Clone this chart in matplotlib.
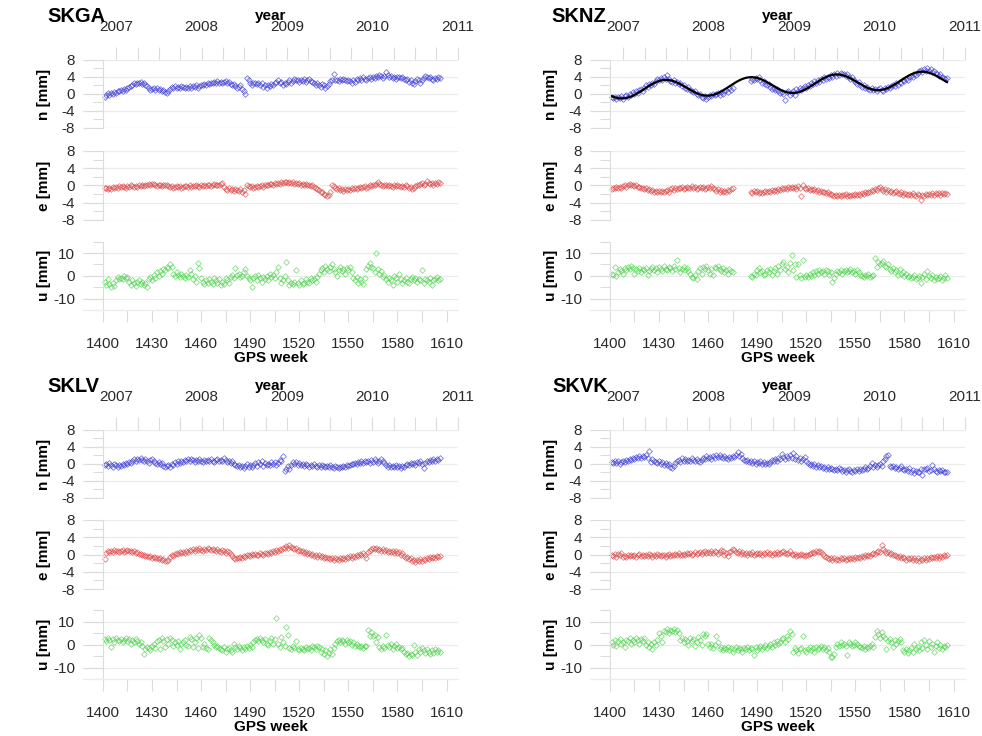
import numpy as np
import matplotlib
matplotlib.use("Agg")
from matplotlib import pyplot as plt
from matplotlib.ticker import FixedLocator

plt.rcParams['font.family'] = ['Liberation Sans', 'DejaVu Sans']
plt.rcParams['axes.unicode_minus'] = False

nan = np.nan
weeks = np.arange(1401, 1607)

# ---- SKGA ----
skga_n = [-0.8,-0.3,0.2,-0.2,0.3,0.0,0.5,0.3,0.8,0.6,
          1.0,0.7,1.2,1.0,1.4,1.6,1.9,2.2,2.5,2.3,
          2.7,2.5,2.8,2.4,2.6,2.2,1.8,1.3,1.0,1.2,
          1.4,1.0,1.3,0.9,1.1,0.7,0.9,0.4,0.2,0.6,
          1.2,1.6,1.4,1.8,1.5,1.7,1.4,1.9,1.6,1.3,
          1.7,1.5,1.9,1.4,1.8,1.6,2.0,1.5,1.9,2.1,
          2.0,2.4,2.2,2.6,2.3,2.7,2.5,2.8,2.6,3.0,
          2.7,2.9,2.5,2.8,3.0,2.6,2.9,2.4,2.1,2.3,
          1.8,1.4,1.7,2.0,1.2,0.8,-0.1,3.8,3.2,2.6,
          2.2,2.5,2.7,2.3,2.6,2.1,2.5,1.7,2.0,1.5,
          2.2,1.9,2.4,2.0,2.6,2.8,3.2,2.5,2.9,2.2,
          2.6,2.3,2.9,3.3,2.7,3.1,3.6,3.2,3.4,2.9,
          3.3,3.0,3.5,2.8,3.2,3.6,3.1,2.9,2.5,2.2,
          2.7,2.0,1.7,2.4,2.0,1.5,1.9,2.4,3.0,3.3,
          4.6,3.2,3.4,3.1,3.5,3.2,3.6,3.3,3.0,3.4,
          3.1,2.7,3.2,2.9,3.5,3.3,3.7,3.4,3.9,3.6,
          3.3,3.8,4.1,3.6,4.0,3.7,4.3,4.0,4.4,4.2,
          3.8,4.2,5.2,4.4,4.0,4.3,3.8,4.1,3.5,3.9,
          4.0,3.7,4.1,3.6,3.2,3.5,2.9,3.3,2.6,2.4,
          3.0,3.6,3.2,2.5,3.4,3.8,4.3,4.0,3.7,4.1,
          3.6,3.4,3.8,3.5,3.9,3.8]
skga_e = [-0.7,-0.5,-0.9,-0.6,-0.8,-0.4,-0.7,-0.3,-0.5,-0.2,
          -0.4,-0.1,-0.3,-0.5,-0.2,-0.4,0.0,-0.2,-0.3,-0.1,
          -0.3,0.0,-0.2,0.1,-0.1,0.2,0.0,0.3,0.1,0.3,
          0.4,0.1,-0.1,0.2,0.0,-0.2,0.1,0.2,0.0,-0.2,
          -0.4,-0.2,-0.5,-0.3,-0.1,-0.4,-0.2,-0.5,-0.3,-0.1,
          -0.2,-0.4,0.0,-0.3,-0.1,-0.2,0.1,-0.1,-0.3,0.0,
          -0.2,0.1,-0.1,0.2,0.0,-0.2,0.1,0.3,0.0,0.2,
          0.1,0.3,0.5,-0.4,-0.8,-1.0,-0.7,-1.1,-0.9,-1.2,
          -0.8,-1.1,-1.3,-0.9,-1.4,-1.0,-1.9,0.2,-0.1,-0.4,
          -0.2,-0.5,-0.3,-0.1,-0.4,-0.2,0.0,-0.3,0.1,0.2,
          0.0,0.3,0.4,0.2,0.5,0.3,0.6,0.4,0.8,0.5,
          0.7,0.9,0.6,0.8,0.5,0.7,0.4,0.6,0.3,0.5,
          0.2,0.4,0.1,0.3,0.0,0.2,-0.1,0.1,-0.3,-0.5,
          -0.8,-1.1,-1.4,-1.6,-1.9,-2.1,-2.4,-2.2,-1.6,0.1,
          -0.2,-0.6,-0.9,-0.7,-1.0,-0.8,-1.2,-0.9,-1.1,-0.8,
          -1.0,-0.7,-0.9,-0.6,-0.8,-0.5,-0.3,-0.6,-0.4,-0.2,
          -0.5,-0.3,0.0,-0.2,0.2,0.0,0.4,0.9,0.3,0.1,
          -0.1,0.2,0.0,-0.2,0.1,-0.1,-0.3,0.0,-0.2,0.1,
          -0.2,-0.4,-0.1,-0.3,0.0,-0.2,-0.5,-0.4,-0.9,-0.6,
          -0.1,0.2,0.0,0.3,0.5,0.1,0.4,1.1,0.6,0.3,
          0.5,0.2,0.6,0.4,0.7,0.5]
skga_u = [-2.5,-4.0,-1.5,-3.5,-5.0,-3.0,-4.5,-2.0,-0.5,-1.5,
          -0.8,-1.2,0.0,-1.0,-0.5,-2.5,-4.0,-2.0,-3.0,-4.5,
          -2.5,-2.0,-3.5,-2.5,-4.0,-3.0,-4.8,-1.5,-0.5,-2.0,
          0.5,-1.0,1.5,0.0,2.0,1.0,3.0,2.5,4.0,3.5,
          5.0,4.0,1.0,0.0,1.5,0.5,-0.5,1.0,0.0,-1.0,
          0.5,-0.5,2.5,1.0,-1.5,0.0,-2.5,5.5,3.3,-1.0,
          -2.5,-3.5,-2.0,-3.0,-1.5,-2.5,-3.5,-1.0,-2.0,-3.0,
          -1.5,-4.0,-2.5,-3.5,-1.0,-2.0,-3.0,-0.5,0.5,-1.0,
          3.3,0.5,1.0,-0.5,0.0,1.5,3.0,0.0,-1.0,-2.0,
          -5.0,-1.0,0.0,-2.0,0.5,-1.0,-2.5,-0.5,-1.5,0.0,
          -2.0,1.0,-0.5,0.5,-1.0,1.5,4.0,-1.0,-3.0,-2.0,
          0.0,6.0,-2.0,-4.0,-3.0,-3.5,-2.5,2.6,-3.0,-4.0,
          -2.0,-3.5,-3.0,-1.5,-2.5,-3.0,-1.0,-2.0,-1.5,-2.5,
          -0.5,1.0,2.5,3.5,1.5,4.5,3.0,2.0,4.0,5.0,
          3.0,1.5,0.0,2.5,4.0,2.0,3.0,1.0,3.5,2.5,
          4.0,1.5,-1.0,-2.0,-0.5,-3.0,-1.5,-2.5,-3.5,-1.0,
          3.0,4.5,5.5,4.0,3.5,1.5,10.0,3.0,1.0,2.0,
          -0.5,0.5,-1.5,-2.5,-1.0,-2.0,-4.0,0.0,-1.0,-2.5,
          1.0,-1.5,-3.0,-2.0,-1.0,-2.5,-3.0,-1.5,-0.5,-2.0,
          -1.0,-2.5,-1.5,-2.0,2.6,-3.0,-1.5,-2.0,-2.5,-1.0,
          -4.0,-2.0,-1.5,-0.5,-2.0,-1.5]

# ---- SKNZ ----
sknz_n = [-0.8,-1.0,-0.6,-1.2,-0.7,-0.9,-0.5,-1.1,-0.4,-0.2,
          -0.6,0.0,-0.3,0.4,0.1,0.6,0.3,0.9,1.2,0.8,
          1.5,2.0,1.6,2.3,2.0,2.7,2.4,3.0,3.6,3.2,
          3.8,3.4,4.0,3.5,4.5,3.6,3.1,2.8,3.3,2.6,
          2.9,2.3,2.5,1.9,2.1,1.5,1.2,1.6,1.0,0.8,
          0.4,0.7,0.1,-0.3,-0.1,-0.6,-0.9,-0.4,-1.2,-0.7,
          -0.2,-0.5,0.1,-0.3,0.0,0.3,-0.2,0.4,0.1,0.6,
          0.9,0.5,1.3,1.0,1.5,nan,nan,nan,nan,nan,
          nan,nan,nan,nan,nan,3.0,3.6,3.3,3.8,3.5,
          4.0,3.2,2.6,3.0,2.4,2.0,2.3,1.6,1.2,1.5,
          0.9,1.1,0.6,0.2,0.5,0.1,-1.4,0.4,0.8,-0.3,
          0.3,0.7,-0.2,1.1,0.6,1.4,1.0,1.5,1.9,1.3,
          2.2,1.8,2.6,2.3,3.0,2.7,3.3,2.9,3.6,3.2,
          3.9,3.5,4.1,3.7,4.4,4.0,4.6,4.3,4.9,4.5,
          5.0,4.6,4.8,4.3,4.7,4.1,3.6,3.9,3.2,2.8,
          2.4,2.9,2.0,1.7,2.1,1.4,1.7,1.2,1.0,1.3,
          0.9,1.2,0.8,1.1,1.5,1.0,0.7,1.3,1.1,1.6,
          1.4,1.9,2.1,1.8,2.5,2.2,2.8,2.6,3.2,3.0,
          3.5,3.2,3.9,4.3,4.0,4.6,4.4,5.0,5.3,5.6,
          5.2,5.8,5.5,6.0,5.4,5.9,5.1,5.5,4.9,4.6,
          4.3,4.7,4.0,3.8,3.5,3.7]
sknz_e = [-0.8,-0.5,-0.7,-0.4,-0.6,-0.3,-0.5,-0.2,0.0,-0.3,
          0.1,0.3,0.0,0.2,-0.2,0.0,-0.4,-0.3,-0.7,-0.5,
          -0.9,-0.7,-1.1,-0.9,-1.3,-1.0,-1.4,-1.2,-1.6,-1.3,
          -1.5,-1.2,-1.6,-1.3,-1.0,-1.4,-0.9,-0.7,-1.0,-0.6,
          -0.8,-0.5,-0.7,-0.4,-0.9,-0.6,-0.3,-0.7,-0.5,-0.2,
          -0.6,-0.4,-0.8,-0.5,-0.3,-0.7,-0.4,-0.9,-0.6,-0.3,
          -0.7,-0.2,-0.5,-0.9,-1.2,-0.8,-1.4,-1.1,-1.6,-1.3,
          -1.5,-1.0,-1.2,-0.8,-0.6,nan,nan,nan,nan,nan,
          nan,nan,nan,nan,nan,-1.4,-1.7,-1.2,-1.6,-1.3,
          -1.7,-1.4,-1.8,-1.5,-1.3,-1.6,-1.2,-1.5,-1.1,-1.3,
          -1.0,-1.2,-0.8,-1.1,-0.7,-0.9,-0.5,-0.8,-0.4,-0.6,
          -0.3,-0.7,-0.4,-0.8,-0.2,-0.5,-2.5,0.2,-0.6,-0.9,
          -0.7,-1.0,-0.8,-1.1,-0.9,-1.3,-1.0,-1.4,-1.2,-1.6,
          -1.5,-1.8,-1.6,-2.0,-1.9,-2.2,-2.4,-2.1,-2.5,-2.2,
          -2.4,-2.1,-2.3,-2.0,-2.4,-2.2,-2.5,-2.1,-2.3,-2.0,
          -2.2,-1.9,-2.1,-1.7,-2.0,-1.6,-1.8,-1.4,-1.5,-1.1,
          -1.3,-0.9,-1.0,-0.6,-0.3,-0.8,-1.2,-0.9,-1.4,-1.1,
          -1.6,-1.3,-1.8,-1.5,-1.2,-1.7,-1.9,-1.6,-2.1,-1.8,
          -2.0,-2.3,-1.9,-2.2,-1.8,-2.1,-2.4,-2.0,-2.3,-3.4,
          -2.1,-2.5,-2.0,-2.3,-1.9,-2.2,-1.8,-2.1,-1.7,-2.0,
          -1.8,-2.1,-1.7,-1.9,-1.8,-2.0]
sknz_u = [1.0,0.5,4.0,0.0,1.5,3.0,2.0,1.0,3.5,2.5,
          4.0,3.0,4.5,3.5,1.0,3.0,2.0,3.5,1.5,3.0,
          2.5,3.5,0.5,2.0,3.0,4.0,2.5,3.5,1.5,4.0,
          3.0,2.0,4.5,3.0,2.5,4.0,3.5,2.0,4.5,3.0,
          7.0,3.5,1.5,3.0,4.0,2.5,3.5,2.0,1.0,-0.5,
          -1.0,0.5,-1.5,2.0,3.5,1.0,4.0,3.0,4.5,2.5,
          1.0,3.0,0.5,4.0,3.5,4.5,3.0,2.0,3.5,1.5,
          2.5,1.0,3.0,2.0,1.5,nan,nan,nan,nan,nan,
          nan,nan,nan,nan,nan,0.0,-0.5,1.0,0.5,2.5,
          3.5,1.5,2.0,0.5,1.0,2.5,1.5,3.0,0.5,2.0,
          3.5,1.0,4.5,2.5,5.0,6.0,3.0,4.0,1.5,5.5,
          9.0,2.5,5.0,-0.5,5.0,0.5,-1.0,7.0,-0.5,0.5,
          -0.5,1.0,0.0,1.5,0.5,2.0,1.0,2.5,1.5,2.0,
          1.0,2.5,2.0,0.5,1.5,-2.5,-1.0,1.0,2.0,1.5,
          2.5,1.0,2.0,2.5,1.5,2.0,3.0,1.5,2.0,1.0,
          2.5,1.5,0.5,0.0,-0.5,0.5,0.0,1.0,-0.5,0.0,
          0.5,7.7,4.0,6.0,5.0,5.5,6.5,4.5,4.0,5.0,
          3.0,2.0,3.5,1.5,2.5,0.5,3.0,1.0,1.5,0.0,
          1.0,-0.5,0.0,-1.0,-0.5,0.5,-1.5,-1.0,0.0,-3.0,
          -0.5,1.0,-1.5,2.0,0.0,-1.0,0.5,-2.0,-0.5,-1.5,
          -1.0,0.0,-2.0,-1.0,0.5,-1.0]

# ---- SKLV ----
sklv_n = [-0.3,0.0,-0.4,0.2,-0.2,-0.6,0.1,-0.3,-0.8,-0.2,
          -0.5,0.0,-0.3,0.3,-0.1,0.5,0.2,0.8,1.1,0.7,
          1.2,0.9,1.3,1.0,0.6,1.1,0.8,0.3,0.9,1.2,
          0.6,0.2,0.0,0.4,-0.1,0.3,-0.4,-0.8,-0.5,-0.2,
          -0.6,0.1,-0.3,0.4,0.0,0.6,0.3,0.8,0.5,1.0,
          0.7,1.1,0.8,1.2,0.9,0.5,1.0,0.7,1.1,0.8,
          0.4,0.9,0.6,1.0,0.7,1.2,0.8,0.5,0.9,1.1,
          0.7,1.0,0.6,1.3,0.9,0.5,0.8,0.3,0.6,0.1,
          -0.2,-0.5,-0.3,-0.8,-0.4,-0.9,-0.5,0.0,-0.6,-0.2,
          -0.7,-0.3,0.2,-0.5,0.4,0.0,0.6,-0.4,0.3,-0.2,
          0.1,-0.3,0.4,0.0,0.5,-0.2,0.3,1.0,0.6,1.8,
          -1.6,-1.2,-0.5,-1.3,-0.2,0.4,0.0,0.5,-0.3,0.2,
          -0.2,0.1,-0.4,0.0,-0.3,-0.6,-0.2,-0.5,-0.1,-0.4,
          -0.7,-0.3,-0.6,-0.2,-0.5,-0.8,-0.4,-0.7,-0.3,-0.6,
          -0.9,-0.5,-0.7,-1.0,-0.6,-0.8,-0.4,-0.7,-0.3,-0.5,
          -0.2,0.1,-0.1,0.3,0.0,0.5,0.2,0.6,0.3,0.8,
          0.4,0.7,0.2,0.9,0.5,1.1,0.7,0.3,0.8,1.2,
          0.6,0.2,-0.3,-0.6,-0.2,-0.7,-0.4,-0.8,-0.3,-0.6,
          -0.5,-0.9,-0.4,-0.7,-0.2,0.1,-0.3,0.2,-0.1,0.3,
          -0.2,0.5,0.2,0.6,-0.1,-0.9,0.3,0.7,0.4,1.0,
          0.6,1.1,0.8,1.2,0.9,1.3]
sklv_e = [-1.0,0.3,0.8,0.5,0.9,0.6,1.0,0.7,0.9,0.5,
          0.8,1.0,0.6,0.9,1.1,0.7,0.8,0.5,0.7,0.3,
          0.5,0.1,0.2,-0.2,0.0,-0.4,-0.3,-0.6,-0.4,-0.8,
          -0.6,-0.9,-0.7,-1.1,-0.9,-1.3,-1.0,-1.4,-1.6,-1.2,
          -0.5,0.0,-0.3,0.2,0.4,0.1,0.5,0.3,0.6,0.4,
          0.8,0.6,1.0,0.8,1.2,0.9,1.3,1.0,1.4,1.1,
          0.9,1.3,1.0,1.5,1.2,1.0,1.3,1.1,0.8,1.2,
          0.9,0.6,1.0,0.7,0.4,0.8,0.5,0.1,-0.3,-0.8,
          -1.0,-0.7,-0.9,-0.6,-0.8,-0.4,-0.6,-0.2,0.0,-0.3,
          0.1,-0.2,0.2,0.0,-0.2,0.3,0.1,-0.1,0.3,0.4,
          0.2,0.6,0.4,0.8,0.5,1.0,0.7,1.3,1.1,1.6,
          1.4,1.9,1.6,2.1,1.8,1.5,1.2,1.4,0.9,1.1,
          0.7,0.9,0.4,0.6,0.2,0.4,0.0,0.2,-0.3,-0.1,
          -0.5,-0.2,-0.6,-0.4,-0.8,-0.5,-0.9,-0.7,-1.1,-0.8,
          -1.2,-0.9,-1.1,-1.3,-0.9,-1.1,-0.7,-1.0,-0.6,-0.8,
          -0.4,-0.7,-0.3,-0.5,-0.1,-0.3,0.1,-0.1,0.3,0.0,
          -0.9,0.5,0.9,1.2,1.5,1.3,1.6,1.0,1.3,0.9,
          1.2,0.8,1.1,0.6,0.9,0.5,0.8,0.4,0.7,0.3,
          0.5,0.0,0.3,-0.4,-0.8,-0.6,-1.1,-0.9,-1.4,-1.2,
          -1.7,-1.3,-1.5,-1.1,-1.4,-1.0,-1.2,-0.8,-1.0,-0.6,
          -0.9,-0.5,-0.7,-0.4,-0.6,-0.3]
sklv_u = [2.5,1.5,3.0,2.0,-1.0,2.5,1.0,3.0,2.0,1.5,
          2.5,1.0,2.0,3.0,1.5,2.5,0.5,2.0,1.0,2.5,
          1.5,0.5,1.0,-0.5,-4.0,-2.0,-1.0,-1.5,-2.5,-0.5,
          0.5,-1.5,1.5,2.0,-2.0,3.0,1.5,-1.0,2.5,0.5,
          3.0,2.0,-0.5,1.0,0.0,1.5,-2.0,0.5,1.0,2.0,
          0.0,-0.5,3.5,2.5,-1.0,1.0,3.0,-1.5,4.3,3.0,
          -1.0,0.5,-1.5,-2.0,3.0,2.0,1.0,0.0,-1.0,-0.5,
          -1.5,-2.0,-2.5,-1.0,-3.0,-2.0,-1.5,-2.5,-3.0,0.5,
          -1.0,-2.0,-0.5,-1.5,-2.5,-1.0,-2.0,-0.5,-1.5,0.0,
          -1.0,1.0,2.0,2.5,1.5,3.0,2.0,1.0,2.5,0.5,
          0.0,1.5,3.0,0.5,2.5,11.5,0.5,-1.0,3.5,1.0,
          -0.5,7.8,4.3,-1.5,-2.0,-0.5,-1.5,1.4,-2.0,-2.5,
          -1.5,-2.0,-2.5,-1.0,-2.0,-1.5,-2.5,-0.5,-1.0,-2.0,
          -0.5,-1.0,-3.0,-2.0,-4.0,-2.5,-5.0,-3.5,-2.0,-4.0,
          -1.5,0.5,1.5,2.0,1.0,2.0,1.5,0.5,2.0,1.0,
          1.5,0.0,1.0,-0.5,0.5,-0.5,-1.0,-0.5,-1.5,-0.5,
          -0.7,6.4,4.0,5.5,3.6,4.3,1.0,3.5,-1.0,-2.0,
          -0.5,-1.5,4.3,0.0,-1.0,0.5,-2.0,-0.5,0.5,-1.5,
          -1.0,-2.0,-1.5,-3.0,-4.0,-3.5,-5.0,-4.0,-4.5,0.0,
          -3.0,-4.5,-2.0,-3.0,-1.5,-2.5,-3.5,-2.0,-3.0,-4.0,
          -2.5,-3.5,-2.0,-3.0,-2.5,-3.0]

# ---- SKVK ----
skvk_n = [0.5,0.2,0.7,0.3,0.6,0.0,0.4,0.8,0.5,1.0,
          0.7,1.2,0.9,1.4,1.1,1.6,1.3,1.8,1.5,1.9,
          1.6,2.0,1.4,3.0,0.4,1.2,0.8,0.5,0.2,0.6,
          0.1,0.4,-0.2,0.3,-0.3,0.0,-0.6,-1.0,-0.4,0.2,
          0.6,1.0,0.5,1.3,0.8,1.1,0.6,1.0,0.7,1.4,
          1.0,0.6,1.2,0.8,0.4,0.9,1.5,1.1,1.8,1.3,
          1.6,1.2,1.9,1.5,2.1,1.7,2.0,1.6,1.3,1.8,
          1.5,1.1,1.7,1.3,1.9,1.6,2.2,2.7,1.8,2.4,
          1.4,1.0,0.6,0.9,0.4,0.8,0.3,0.6,0.1,0.5,
          0.2,0.6,0.0,0.4,-0.1,0.3,0.0,0.5,0.9,0.6,
          1.2,0.8,1.5,1.1,2.3,1.7,1.2,1.9,1.4,2.0,
          1.5,2.5,1.2,1.8,0.9,1.4,0.6,1.1,1.6,0.8,
          0.2,-0.2,0.1,-0.4,-0.1,-0.6,-0.3,-0.8,-0.5,-1.0,
          -0.7,-1.1,-0.8,-1.3,-0.9,-1.2,-1.5,-1.1,-1.4,-1.0,
          -1.3,-1.7,-1.4,-1.9,-1.5,-1.2,-1.6,-1.8,-1.4,-1.7,
          -1.3,-1.6,-1.1,-1.5,-1.2,-0.8,-1.3,-0.9,-0.4,0.3,
          -0.6,-0.2,-0.7,-0.3,0.0,-0.5,0.6,1.2,1.8,2.0,
          -0.4,-0.8,-0.5,-1.0,-0.7,-1.3,-0.9,-0.4,-1.1,-1.5,
          -1.2,-1.6,-1.0,-1.9,-1.4,-2.1,-1.6,-2.0,-1.8,-1.2,
          -2.6,-1.1,-1.3,-1.0,-1.7,-1.4,-0.2,-1.3,-1.6,-1.9,
          -1.5,-1.7,-1.4,-1.8,-1.9,-2.0]
skvk_e = [0.0,-0.3,0.2,-0.5,0.1,-0.2,0.3,-0.6,-0.3,-0.5,
          -0.2,-0.4,0.0,-0.3,-0.1,-0.5,-0.2,0.1,-0.3,0.0,
          -0.4,-0.1,-0.3,0.1,-0.2,-0.5,0.0,-0.3,0.2,-0.1,
          -0.4,0.0,-0.2,-0.5,-0.1,0.1,-0.3,0.0,-0.2,0.2,
          -0.1,0.3,0.0,-0.2,0.2,0.0,0.4,0.1,0.3,0.0,
          0.2,0.5,0.1,0.3,0.6,0.2,0.5,0.8,0.4,0.6,
          0.3,0.7,0.4,0.9,0.5,0.2,0.6,1.0,0.7,-0.2,
          0.3,-0.4,0.5,0.8,1.3,1.0,0.6,0.4,0.7,0.2,
          0.5,0.1,0.4,0.0,0.3,0.2,0.5,-0.1,0.2,0.4,
          0.1,0.3,0.0,0.4,0.2,0.5,0.1,0.3,0.0,0.4,
          0.2,0.5,0.1,0.3,0.6,0.9,0.4,0.1,0.3,0.8,
          0.2,-0.2,0.1,-0.3,0.0,-0.2,0.1,-0.1,-0.3,0.0,
          -0.2,0.1,0.3,0.6,0.4,0.8,0.5,0.9,0.6,0.2,
          -0.3,-0.6,-0.9,-1.1,-0.8,-1.2,-0.9,-1.3,-1.0,-1.2,
          -0.8,-1.1,-0.9,-1.3,-1.0,-0.7,-1.1,-0.8,-1.0,-0.6,
          -0.8,-0.5,-0.7,-0.3,-0.6,-0.2,-0.4,0.0,-0.3,0.1,
          0.4,0.2,0.6,0.9,0.5,2.2,1.2,0.8,0.4,0.6,
          0.1,0.3,-0.2,0.0,-0.4,-0.6,-0.3,-0.8,-0.5,-0.9,
          -1.2,-0.8,-1.1,-0.7,-1.3,-0.9,-1.2,-0.8,-1.5,-1.0,
          -1.3,-0.9,-1.2,-0.7,-1.0,-0.6,-0.9,-0.5,-0.8,-0.4,
          -0.7,-0.3,-0.5,-0.1,-0.4,-0.2]
skvk_u = [1.0,0.0,2.0,-0.5,1.5,2.5,0.5,1.0,-1.0,2.0,
          1.5,3.0,0.5,2.0,1.0,3.0,2.0,0.5,2.5,1.5,
          3.0,0.0,1.0,-1.0,0.5,-2.0,1.0,0.0,2.0,5.0,
          4.0,1.0,6.0,5.5,7.0,5.0,6.5,6.0,7.0,5.5,
          6.5,5.0,2.0,3.0,1.0,2.5,1.5,0.0,3.0,1.5,
          2.5,-0.5,1.0,3.5,2.0,0.0,4.5,4.0,4.5,0.5,
          -1.0,0.5,-1.5,0.0,4.0,1.0,-2.0,-1.0,-2.5,-1.5,
          -2.0,-1.0,-2.5,-1.5,-3.0,-2.0,-1.0,-2.5,-1.5,-2.0,
          -3.0,-1.5,-2.0,-1.0,-2.5,-1.5,-2.0,-4.5,-1.0,-2.5,
          -1.5,-0.5,-2.0,-1.0,0.0,-1.5,-0.5,0.5,-1.0,1.0,
          0.0,1.5,0.5,1.0,2.5,3.0,1.0,4.0,2.5,6.0,
          4.5,-3.0,-1.5,-2.5,-3.5,-2.0,-1.5,4.0,-2.5,-3.0,
          -2.0,-1.0,-2.5,-1.5,-3.0,-1.0,-2.0,-1.5,-0.5,-2.0,
          -1.0,-2.5,-1.5,-3.0,-5.5,-5.5,-4.0,-1.0,0.5,-0.5,
          1.0,0.0,0.5,-0.5,-4.5,1.0,0.5,-0.5,0.0,1.0,
          0.5,-0.5,-1.0,-1.5,-0.5,-2.0,-1.0,-1.5,-0.5,0.5,
          -1.0,3.5,6.0,4.5,3.0,5.5,4.0,3.0,-2.0,1.5,
          2.5,1.0,-1.0,2.0,0.5,1.5,2.5,1.0,-2.5,-3.0,
          -2.0,-3.5,-2.5,-1.5,-3.0,0.5,-2.0,-1.0,-2.5,1.0,
          -1.5,2.0,0.0,-2.0,1.5,-1.0,0.5,-3.0,-0.5,1.0,
          -1.5,0.0,-2.0,-0.5,-1.0,0.0]

station_names = ["SKGA", "SKNZ", "SKLV", "SKVK"]
station_data = [(skga_n, skga_e, skga_u), (sknz_n, sknz_e, sknz_u),
                (sklv_n, sklv_e, sklv_u), (skvk_n, skvk_e, skvk_u)]
fit_station = "SKNZ"

comp_labels = ["n [mm]", "e [mm]", "u [mm]"]
comp_colors = ["#3c3cd2", "#dc4646", "#4cd24c"]
year_ticks = [2007, 2008, 2009, 2010, 2011]

GRID = "#ececec"
AXC = "#dcdcdc"
FS = 11


def week_to_year(w):
    return 2007 + (np.asarray(w) - 1408.14) / 52.1775


def year_to_week(y):
    return 1408.14 + (np.asarray(y) - 2007) * 52.1775


fig = plt.figure(figsize=(9.82, 7.36), dpi=100)

col_left = [0.0848, 0.6011]
col_w = 0.3816
row_geo = [[(0.8261, 0.0924), (0.7011, 0.0938), (0.5788, 0.0929)],
           [(0.3234, 0.0924), (0.1997, 0.0938), (0.0774, 0.0933)]]
title_pos = [(0.048, 0.978), (0.562, 0.978), (0.048, 0.475), (0.563, 0.475)]

for k, name in enumerate(station_names):
    r, c = divmod(k, 2)
    fig.text(title_pos[k][0], title_pos[k][1], name, fontsize=14.5,
             fontweight="bold", va="center", ha="left")
    for j in range(3):
        b, h = row_geo[r][j]
        ax = fig.add_axes([col_left[c], b, col_w, h])
        vals = np.array(station_data[k][j], dtype=float)
        ax.plot(weeks, vals, linestyle="none", marker="D", ms=2.9,
                mfc="none", mec=comp_colors[j], mew=0.6, alpha=0.7,
                clip_on=False)
        if j == 0 and name == fit_station:
            ok = ~np.isnan(vals)
            t = weeks[ok].astype(float)
            om = 2 * np.pi / 52.1775
            A = np.column_stack([np.ones_like(t), t - 1500, np.sin(om * t), np.cos(om * t)])
            coef = np.linalg.lstsq(A, vals[ok], rcond=None)[0]
            tt = np.linspace(weeks[0], weeks[-1], 400)
            At = np.column_stack([np.ones_like(tt), tt - 1500, np.sin(om * tt), np.cos(om * tt)])
            ax.plot(tt, At @ coef, color="black", lw=1.6)

        ax.set_xlim(1388, 1617)
        if j < 2:
            ax.set_ylim(-8, 8)
            major, minor = [-8, -4, 0, 4, 8], [-6, -2, 2, 6]
            ax.spines["left"].set_bounds(-8, 8)
        else:
            ax.set_ylim(-15, 15)
            major, minor = [-10, 0, 10], [-15, -5, 5, 15]
            ax.spines["left"].set_bounds(-15, 15)
        ax.yaxis.set_major_locator(FixedLocator(major))
        ax.yaxis.set_minor_locator(FixedLocator(minor))
        ax.set_yticklabels([str(v) for v in major])
        for yv in major:
            ax.axhline(yv, color=GRID, lw=0.9, zorder=0)

        ax.spines["left"].set_position(("data", 1400))
        ax.spines["left"].set_color(AXC)
        ax.spines["left"].set_linewidth(0.8)
        for s in ["top", "right"]:
            ax.spines[s].set_visible(False)
        ax.tick_params(axis="y", which="major", direction="out", length=14.4,
                       color=AXC, width=0.8, labelsize=FS, pad=5.5, labelcolor="#2a2a2a")
        ax.tick_params(axis="y", which="minor", direction="out", length=7,
                       color=AXC, width=0.8)
        ax.set_ylabel(comp_labels[j], fontsize=FS, fontweight="bold")
        ax.yaxis.set_label_coords(-0.087, 0.5)
        ax.set_facecolor("none")

        if j == 2:
            ax.spines["bottom"].set_color(GRID)
            ax.spines["bottom"].set_linewidth(0.9)
            ax.xaxis.set_major_locator(FixedLocator(np.arange(1400, 1611, 30)))
            ax.xaxis.set_minor_locator(FixedLocator(np.arange(1415, 1611, 30)))
            ax.tick_params(axis="x", which="both", direction="out", length=8.6,
                           color=AXC, width=0.8)
            ax.tick_params(axis="x", which="major", labelsize=FS, pad=10.5,
                           labelcolor="#2a2a2a")
            ax.set_xlabel("GPS week", fontsize=FS, fontweight="bold", labelpad=0.5)
        else:
            ax.spines["bottom"].set_visible(False)
            ax.tick_params(axis="x", which="both", bottom=False, labelbottom=False)

        if j == 0:
            sec = ax.secondary_xaxis("top", functions=(week_to_year, year_to_week))
            sec.xaxis.set_major_locator(FixedLocator(year_ticks))
            sec.xaxis.set_minor_locator(FixedLocator(np.arange(2007, 2011.01, 0.25)))
            sec.set_xticklabels([str(y) for y in year_ticks])
            sec.tick_params(axis="x", which="both", direction="out", length=9.4,
                            color=AXC, width=0.8)
            sec.tick_params(axis="x", which="major", labelsize=FS, pad=9,
                            labelcolor="#2a2a2a")
            sec.spines["top"].set_visible(False)
            sec.set_xlabel("year", fontsize=FS, fontweight="bold", labelpad=0.5)

fig.savefig("out.png", dpi=100, facecolor="white")
